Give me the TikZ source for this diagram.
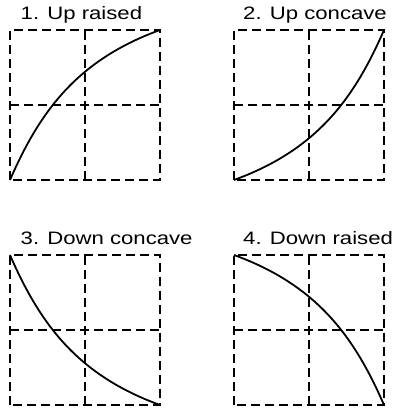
\documentclass[tikz,border=0pt]{standalone}
\usepackage{fontspec}
\newfontfamily\panelfont[FakeStretch=1.23]{Liberation Sans}
\begin{document}
\begin{tikzpicture}[
    x=1pt,y=1pt,
    gridline/.style={dash pattern=on 9pt off 5pt,line width=2pt},
    curveline/.style={line width=1.8pt},
    title/.style={anchor=base west,inner sep=0pt,font=\panelfont\fontsize{18}{20}\selectfont},
    panel/.style={x=150pt,y=150pt}
]
\useasboundingbox (0,0) rectangle (395,411);

% 1. Up raised
\begin{scope}[shift={(10,231)},panel]
\draw[gridline] (0,0) rectangle (1,1) (0.5,0) -- (0.5,1) (0,0.5) -- (1,0.5);
\node[title] (up raised) at (0.07,1.067) {1. Up raised};
\draw[curveline] (0,0) .. controls (0.2,0.46) and (0.45,0.8) .. (1,1);
\end{scope}

% 2. Up concave
\begin{scope}[shift={(234,231)},panel]
\draw[gridline] (0,0) rectangle (1,1) (0.5,0) -- (0.5,1) (0,0.5) -- (1,0.5);
\node[title] (up concave) at (0.06,1.067) {2. Up concave};
\draw[curveline] (0,0) .. controls (0.55,0.2) and (0.8,0.54) .. (1,1);
\end{scope}

% 3. Down concave
\begin{scope}[shift={(10,6)},panel]
\draw[gridline] (0,0) rectangle (1,1) (0.5,0) -- (0.5,1) (0,0.5) -- (1,0.5);
\node[title] (down concave) at (0.07,1.067) {3. Down concave};
\draw[curveline] (0,1) .. controls (0.2,0.54) and (0.45,0.2) .. (1,0);
\end{scope}

% 4. Down raised
\begin{scope}[shift={(234,6)},panel]
\draw[gridline] (0,0) rectangle (1,1) (0.5,0) -- (0.5,1) (0,0.5) -- (1,0.5);
\node[title] (down raised) at (0.06,1.067) {4. Down raised};
\draw[curveline] (0,1) .. controls (0.55,0.8) and (0.8,0.46) .. (1,0);
\end{scope}
\end{tikzpicture}
\end{document}
